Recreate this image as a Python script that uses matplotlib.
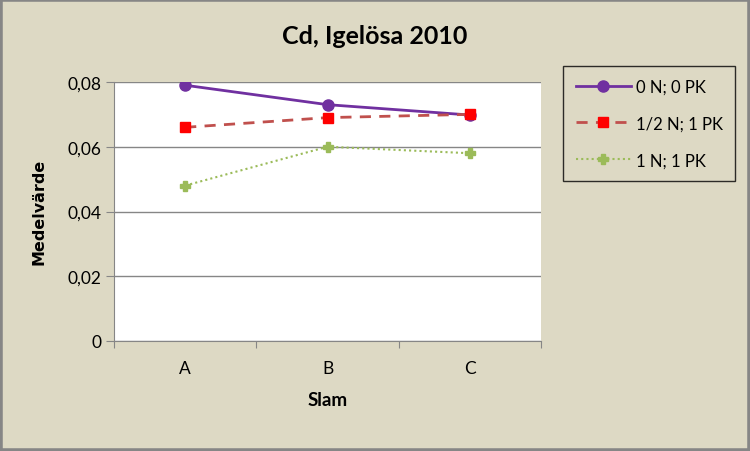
import matplotlib
matplotlib.use("Agg")
import matplotlib.pyplot as plt
from matplotlib.ticker import FixedLocator, FuncFormatter

# data
categories = ["A", "B", "C"]
series_names = ["0 N; 0 PK", "1/2 N; 1 PK", "1 N; 1 PK"]
s_0n_0pk = [0.079, 0.073, 0.0698]
s_half_n_1pk = [0.066, 0.069, 0.070]
s_1n_1pk = [0.048, 0.060, 0.058]
yticks = [0, 0.02, 0.04, 0.06, 0.08]

bg = "#DDD9C4"
grey = "#868686"
plt.rcParams["font.family"] = ["Lato", "DejaVu Sans"]

fig = plt.figure(figsize=(7.5, 4.52), dpi=100, facecolor=bg)
ax = fig.add_axes([114 / 750, 1 - 342 / 452, 427 / 750, 259 / 452])
ax.set_facecolor("white")

x = list(range(len(categories)))
ax.plot(x, s_0n_0pk, color="#7030A0", lw=2, marker="o", ms=8,
        label=series_names[0])
ax.plot(x, s_half_n_1pk, color="#C0504D", lw=2, ls=(0, (4, 3)), marker="s",
        ms=7, mfc="#FF0000", mec="#FF0000", label=series_names[1])
ax.plot(x, s_1n_1pk, color="#9BBB59", lw=1.5, ls=(0, (1, 1.5)), marker="P",
        ms=7, mfc="#9BBB59", mec="#9BBB59", label=series_names[2])

ax.set_xlim(-0.5, len(categories) - 0.5)
ax.set_ylim(0, 0.08)
ax.yaxis.set_major_locator(FixedLocator(yticks))
ax.yaxis.set_major_formatter(FuncFormatter(lambda v, p: ("%g" % v).replace(".", ",")))
ax.grid(axis="y", color=grey, lw=1)
ax.set_axisbelow(True)

ax.set_xticks([i - 0.5 for i in range(len(categories) + 1)])
ax.set_xticklabels([])
ax.set_xticks(x, minor=True)
ax.set_xticklabels(categories, minor=True)
ax.tick_params(axis="x", which="major", length=5, color=grey, direction="out")
ax.tick_params(axis="x", which="minor", length=0, pad=14, labelsize=12.5)
ax.tick_params(axis="y", length=6, color=grey, labelsize=12.5, pad=3)

for side in ("top", "right"):
    ax.spines[side].set_visible(False)
for side in ("left", "bottom"):
    ax.spines[side].set_color(grey)

fig.text(328 / 750, 1 - 401 / 452, "Slam", ha="center", va="center",
         fontsize=13.5, fontweight="bold")
fig.text(39 / 750, 1 - 212 / 452, "Medelvärde", rotation=90, ha="center",
         va="center", fontsize=11.5, fontweight="bold", family=["DejaVu Sans"])
fig.text(0.5, 1 - 37 / 452, "Cd, Igelösa 2010", ha="center", va="center",
         fontsize=18, fontweight="bold")

leg = fig.legend(loc="upper left", bbox_to_anchor=(563 / 750, 1 - 67 / 452),
                 frameon=True, fancybox=False, facecolor=bg, edgecolor="black",
                 fontsize=12, handlelength=3.3, labelspacing=1.25,
                 borderpad=0.75, handletextpad=0.3, borderaxespad=0)
leg.get_frame().set_linewidth(1)

# outer chart border
fig.patches.append(plt.Rectangle((0, 0), 1, 1, transform=fig.transFigure,
                                 fill=False, edgecolor=grey, lw=4))

fig.savefig("out.png", dpi=100, facecolor=bg)
